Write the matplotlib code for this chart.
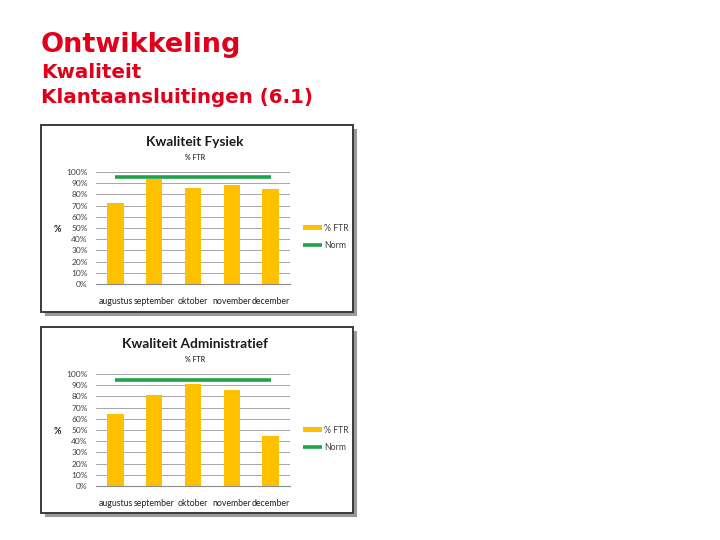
import matplotlib
matplotlib.use('Agg')
import matplotlib.pyplot as plt
import matplotlib.patches as patches
from matplotlib.ticker import FuncFormatter

W, H = 720, 540

months = ["augustus", "september", "oktober", "november", "december"]
ftr_fysiek = [0.72, 0.94, 0.86, 0.88, 0.85]
ftr_admin = [0.64, 0.81, 0.91, 0.86, 0.45]
norm_fysiek = [0.955, 0.955, 0.955, 0.955, 0.955]
norm_admin = [0.95, 0.95, 0.95, 0.95, 0.95]
yticks = [i / 10 for i in range(11)]

BAR = '#FFC000'
GREEN = '#1FA34A'
RED = '#E0001B'
TXT = '#404040'
FONT = ['Lato', 'DejaVu Sans']

fig = plt.figure(figsize=(7.2, 5.4), dpi=100)
fig.patch.set_facecolor('white')


def fx(x):
    return x / W


def fy(y):
    return 1 - y / H


# slide heading
fig.text(fx(41), fy(52), "Ontwikkeling", color=RED, fontsize=19.5, fontweight='bold',
         family='DejaVu Sans', va='baseline')
fig.text(fx(41), fy(78), "Kwaliteit", color=RED, fontsize=14.3, fontweight='bold',
         family='DejaVu Sans', va='baseline')
fig.text(fx(41), fy(103), "Klantaansluitingen (6.1)", color=RED, fontsize=14.3, fontweight='bold',
         family='DejaVu Sans', va='baseline')


def panel(top, bottom, title, values, norm):
    # frame with shadow
    left, right = 41, 353
    shadow = patches.Rectangle((fx(left + 4), fy(bottom + 4)), fx(right - left), (bottom - top) / H,
                               transform=fig.transFigure, facecolor='#9a9a9a', edgecolor='none',
                               zorder=0)
    frame = patches.Rectangle((fx(left), fy(bottom)), fx(right - left), (bottom - top) / H,
                              transform=fig.transFigure, facecolor='white', edgecolor='#3a3a3a',
                              linewidth=1.4, zorder=1)
    fig.patches.extend([shadow, frame])

    pt, pb = top + 47, top + 159
    ax = fig.add_axes([fx(96), fy(pb), fx(290 - 96), (pb - pt) / H], zorder=2)
    ax.set_facecolor('none')
    x = list(range(len(months)))
    bars = ax.bar(x, values, width=0.42, color=BAR, zorder=2, label='% FTR')
    line, = ax.plot(x, norm, color=GREEN, lw=2.6, zorder=3, solid_capstyle='butt', label='Norm')
    ax.set_xlim(-0.5, len(months) - 0.5)
    ax.set_ylim(0, 1)
    ax.set_yticks(yticks)
    ax.yaxis.set_major_formatter(FuncFormatter(lambda v, p: f"{v:.0%}"))
    ax.set_xticks(x)
    ax.set_xticklabels(months)
    ax.grid(axis='y', color='#a6a6a6', lw=0.7, zorder=0)
    for s in ['top', 'right', 'left']:
        ax.spines[s].set_visible(False)
    ax.spines['bottom'].set_color('#8a8a8a')
    ax.tick_params(axis='both', length=0, labelsize=6, labelcolor=TXT)
    ax.tick_params(axis='x', pad=9, labelsize=6.3, labelcolor='#202020')
    ax.tick_params(axis='y', pad=6)
    for lab in ax.get_xticklabels() + ax.get_yticklabels():
        lab.set_family(FONT)

    leg = ax.legend(handles=[bars, line], loc='center left', bbox_to_anchor=(1.065, 0.42),
                    frameon=False, handlelength=2.2, handleheight=0.5,
                    labelspacing=0.9, handletextpad=0.3, borderaxespad=0, borderpad=0,
                    prop={'family': FONT, 'size': 6.3})
    for t in leg.get_texts():
        t.set_color(TXT)

    fig.text(fx(195), fy(top + 17), title, ha='center', va='center', fontsize=9.8,
             fontweight='bold', family=FONT, color='#1a1a1a')
    fig.text(fx(195), fy(top + 32), "% FTR", ha='center', va='center', fontsize=5,
             fontweight='bold', family=FONT, color=TXT)
    fig.text(fx(57), fy(top + 104), "%", ha='center', va='center', fontsize=6.5,
             fontweight='bold', family=FONT, color='#202020')


panel(125, 312, "Kwaliteit Fysiek", ftr_fysiek, norm_fysiek)
panel(327, 513, "Kwaliteit Administratief", ftr_admin, norm_admin)

fig.savefig('out.png', dpi=100)
